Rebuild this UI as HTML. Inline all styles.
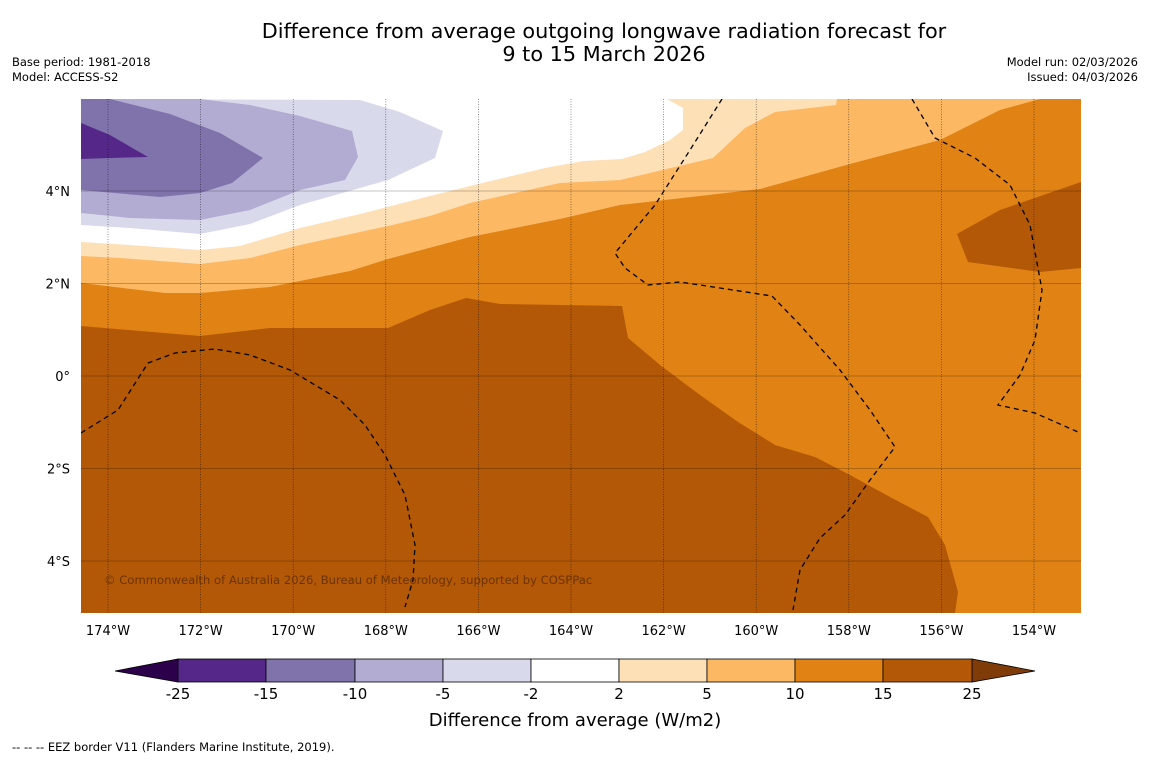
<!DOCTYPE html>
<html><head><meta charset="utf-8"><style>
html,body{margin:0;padding:0;background:#fff;}
body{width:1150px;height:758px;overflow:hidden;font-family:"Liberation Sans","DejaVu Sans",sans-serif;}
text{font-family:"DejaVu Sans","Liberation Sans",sans-serif;}
</style></head><body>
<svg id="s" width="1150" height="758" viewBox="0 0 1150 758">
<text x="604" y="38" font-size="20.8" text-anchor="middle">Difference from average outgoing longwave radiation forecast for</text>
<text x="604" y="61" font-size="20.8" text-anchor="middle">9 to 15 March 2026</text>
<text x="12" y="66" font-size="11.5">Base period: 1981-2018</text>
<text x="12" y="81" font-size="11.5">Model: ACCESS-S2</text>
<text x="1138" y="66" font-size="11.5" text-anchor="end">Model run: 02/03/2026</text>
<text x="1138" y="81" font-size="11.5" text-anchor="end">Issued: 04/03/2026</text>
<defs><clipPath id="mc"><rect x="81" y="99" width="1000" height="514"/></clipPath></defs>
<g id="map" clip-path="url(#mc)"></g>
<g id="cb"></g>
<text x="575" y="726" font-size="18" text-anchor="middle">Difference from average (W/m2)</text>
<text x="12" y="751" font-size="11.5">--  --  -- EEZ border V11 (Flanders Marine Institute, 2019).</text>
</svg>
<script>
const NS="http://www.w3.org/2000/svg";
const lonTicks=[-174,-172,-170,-168,-166,-164,-162,-160,-158,-156,-154];
const lonLabels=["174°W","172°W","170°W","168°W","166°W","164°W","162°W","160°W","158°W","156°W","154°W"];
const latTicks=[4,2,0,-2,-4];
const latLabels=["4°N","2°N","0°","2°S","4°S"];
const levels=[-25,-15,-10,-5,-2,2,5,10,15,25];
const levelColors=["#542788","#8073ac","#b2abd2","#d8daeb","#ffffff","#fee0b6","#fdb863","#e08214","#b35806"];
const X=lon=>108+(lon+174)*46.3, Y=lat=>376-lat*46.25;
function el(t,a,p){const e=document.createElementNS(NS,t);for(const k in a)e.setAttribute(k,a[k]);(p||document.getElementById('s')).appendChild(e);return e;}
const map=document.getElementById('map');
const polys=[
["#e08214","map-bg-10-15","81,99 1081,99 1081,613 81,613"],
["#b35806","region-15-25-south","81,326 200,336 270,328 388,328 430,310 466,298 500,304 622,306 628,338 660,365 700,395 738,422 775,445 815,457 850,475 890,497 928,517 945,545 958,592 955,613 81,613"],
["#b35806","region-15-25-east","957,234 1000,210 1081,182 1081,268 1040,272 968,262"],
["#fdb863","region-5-10","81,283 165,293 200,293 270,287 350,271 388,259 470,237 560,219 620,205 700,196 760,189 850,164 940,140 1000,110 1040,99 81,99"],
["#fee0b6","region-2-5","81,256 120,258 200,264 250,258 300,245 388,226 430,216 470,203 560,183 620,180 713,158 745,128 775,112 836,105 837,99 81,99"],
["#ffffff","region-neutral","81,242 130,245 200,250 240,246 300,228 360,214 430,196 470,186 545,168 583,161 622,159 645,152 670,140 683,130 683,108 667,99 81,99"],
["#d8daeb","region-minus2-5","81,225 130,228 200,234 250,224 300,205 388,180 435,158 443,131 400,112 360,100 81,99"],
["#b2abd2","region-minus5-10","81,213 130,218 200,220 250,210 300,190 345,180 358,157 352,131 300,116 250,105 200,99 81,99"],
["#8073ac","region-minus10-15","81,190 160,197 200,193 232,183 263,158 220,133 170,114 110,99 81,99"],
["#542788","region-minus15-25","81,123 110,135 148,157 110,158 81,159"]];
polys.forEach(p=>{const e=el('polygon',{points:p[2],fill:p[0]},map);});
lonTicks.forEach((v,i)=>{const e=el('line',{x1:X(v),x2:X(v),y1:99,y2:613,stroke:'#000','stroke-width':0.6,'stroke-dasharray':'1,1.5',opacity:0.7},map);
const t=el('text',{x:X(v),y:635,'font-size':13,'text-anchor':'middle'});t.textContent=lonLabels[i];});
latTicks.forEach((v,i)=>{const e=el('line',{x1:81,x2:1081,y1:Y(v),y2:Y(v),stroke:'#000','stroke-width':0.6,opacity:0.45},map);
const t=el('text',{x:70,y:Y(v)+5,'font-size':13,'text-anchor':'end'});t.textContent=latLabels[i];});
const eez=["81,433 118,410 148,363 175,353 215,349 250,355 290,370 340,400 365,425 385,455 405,495 415,545 413,580 405,607",
"722,99 690,150 655,205 615,253 625,268 648,285 680,282 720,288 772,296 800,325 840,370 870,410 895,447 870,480 845,515 820,538 800,570 793,610",
"912,99 935,138 975,158 1010,185 1030,225 1042,290 1035,340 1020,375 998,405 1035,413 1078,432"];
eez.forEach(p=>{const e=el('polyline',{points:p,fill:'none',stroke:'#000','stroke-width':1.3,'stroke-dasharray':'5,4'},map);});
const c=el('text',{x:104,y:584,'font-size':11.6,fill:'#5a2a00',opacity:0.8},map);c.textContent="© Commonwealth of Australia 2026, Bureau of Meteorology, supported by COSPPac";

const cb=document.getElementById('cb');const bx=[178,266,355,443,531,619,707,795,883,972];
el('polygon',{points:"178,659 178,682 115,671",fill:'#2d004b',stroke:'#000','stroke-width':0.8},cb);
el('polygon',{points:"972,659 972,682 1035,671",fill:'#7f3b08',stroke:'#000','stroke-width':0.8},cb);
levelColors.forEach((col,i)=>{const r=el('rect',{x:bx[i],y:659,width:bx[i+1]-bx[i],height:23,fill:col,stroke:'#000','stroke-width':0.8},cb);});
levels.forEach((v,i)=>{const t=el('text',{x:bx[i],y:699,'font-size':15,'text-anchor':'middle'},cb);t.textContent=v;});
</script>
</body></html>
